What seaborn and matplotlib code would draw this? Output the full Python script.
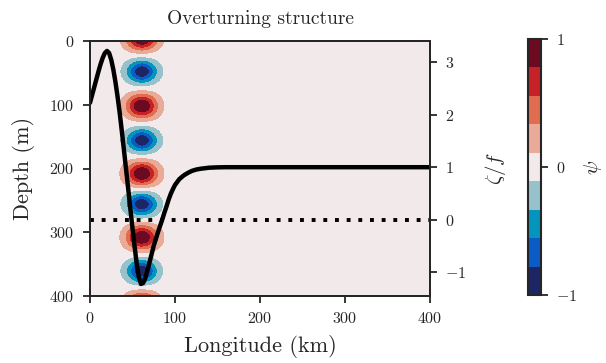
import numpy as np
import matplotlib
matplotlib.use("Agg")
import matplotlib.pyplot as plt
from matplotlib.colors import ListedColormap
import seaborn as sns

# ---- data ----
# zeta/f profile along longitude (right axis)
lon_km = [0, 2.5, 5, 7.5, 10, 12.5, 15, 17.5, 20, 22.5, 25, 27.5, 30, 32.5, 35,
          37.5, 40, 42.5, 45, 47.5, 50, 52.5, 55, 57.5, 60, 62.5, 65, 67.5, 70,
          72.5, 75, 77.5, 80, 82.5, 85, 87.5, 90, 92.5, 95, 97.5, 100, 105,
          110, 115, 120, 125, 130, 140, 150, 160, 200, 300, 400]
zeta_f = [2.23, 2.38, 2.53, 2.68, 2.83, 2.97, 3.09, 3.18, 3.22, 3.18, 3.05,
          2.86, 2.62, 2.34, 2.03, 1.68, 1.32, 0.95, 0.58, 0.2, -0.17, -0.52,
          -0.85, -1.1, -1.23, -1.21, -1.12, -0.98, -0.82, -0.66, -0.5, -0.37,
          -0.24, -0.12, 0.0, 0.13, 0.25, 0.38, 0.49, 0.58, 0.66, 0.77, 0.84,
          0.89, 0.93, 0.955, 0.97, 0.99, 0.997, 1.0, 1.0, 1.0, 1.0]

# overturning cells of psi (left axis)
cell_depths = [-4, 48, 102, 156, 208, 256, 308, 361, 414]
cell_signs = [1, -1, 1, -1, 1, -1, 1, -1, 1]
cell_height = 18.0
cell_lon = 61.0
cell_width = 17.5

psi_levels = np.linspace(-1, 1, 10)
psi_colors = ["#1d2664", "#0b5bc6", "#0594bb", "#96c3cb", "#f2eaea",
              "#e9ab98", "#e06d4f", "#c62127", "#6b0a20"]

depth_ticks = [0, 100, 200, 300, 400]
lon_ticks = [0, 100, 200, 300, 400]
zeta_ticks = [-1, 0, 1, 2, 3]
cbar_ticks = [-1, 0, 1]

# ---- style ----
sns.set_style("ticks")
plt.rcParams["font.family"] = ["cmr10", "DejaVu Serif"]
plt.rcParams["mathtext.fontset"] = "cm"
plt.rcParams["axes.formatter.use_mathtext"] = True
plt.rcParams["axes.unicode_minus"] = True

# ---- field ----
x = np.linspace(0, 400, 801)
z = np.linspace(0, 400, 801)
X, Z = np.meshgrid(x, z)
psi = np.zeros_like(X)
horiz = np.exp(-((X - cell_lon) / cell_width) ** 2)
for zc, s in zip(cell_depths, cell_signs):
    psi += s * np.exp(-((Z - zc) / cell_height) ** 2) * horiz
psi = np.clip(psi, -1, 1)

cmap = ListedColormap(psi_colors)

fig = plt.figure(figsize=(6.06, 3.63), dpi=100)
ax = fig.add_axes([90 / 606, 67 / 363, 340 / 606, 255 / 363])
cax = fig.add_axes([528 / 606, 68 / 363, 13 / 606, 256 / 363])

cf = ax.contourf(X, Z, psi, levels=psi_levels, cmap=cmap)
ax.set_xlim(0, 400)
ax.set_ylim(400, 0)
ax.set_xticks(lon_ticks)
ax.set_yticks(depth_ticks)
ax.set_xlabel("Longitude (km)", fontsize=16, labelpad=6)
ax.set_ylabel("Depth (m)", fontsize=16, labelpad=10)
ax.set_title("Overturning structure", fontsize=14, pad=12)

ax2 = ax.twinx()
sns.lineplot(x=lon_km, y=zeta_f, ax=ax2, color="black", linewidth=3.2)
ax2.axhline(0, color="black", linewidth=2.8, linestyle=(0, (1, 2)))
ax2.set_ylim(-1.46, 3.41)
ax2.set_yticks(zeta_ticks)
ax2.set_ylabel(r"$\zeta/f$", fontsize=15, labelpad=12)

for a in (ax, ax2):
    for sp in a.spines.values():
        sp.set_linewidth(1.4)
    a.tick_params(direction="out", length=5, width=1.3, labelsize=11.5, pad=6)

cbar = fig.colorbar(cf, cax=cax, ticks=cbar_ticks)
cbar.outline.set_linewidth(1.5)
cbar.ax.tick_params(direction="out", length=5, width=1.3, labelsize=11.5, pad=6)
cbar.set_label(r"$\psi$", fontsize=15, labelpad=3)

fig.savefig("out.png", dpi=100)
